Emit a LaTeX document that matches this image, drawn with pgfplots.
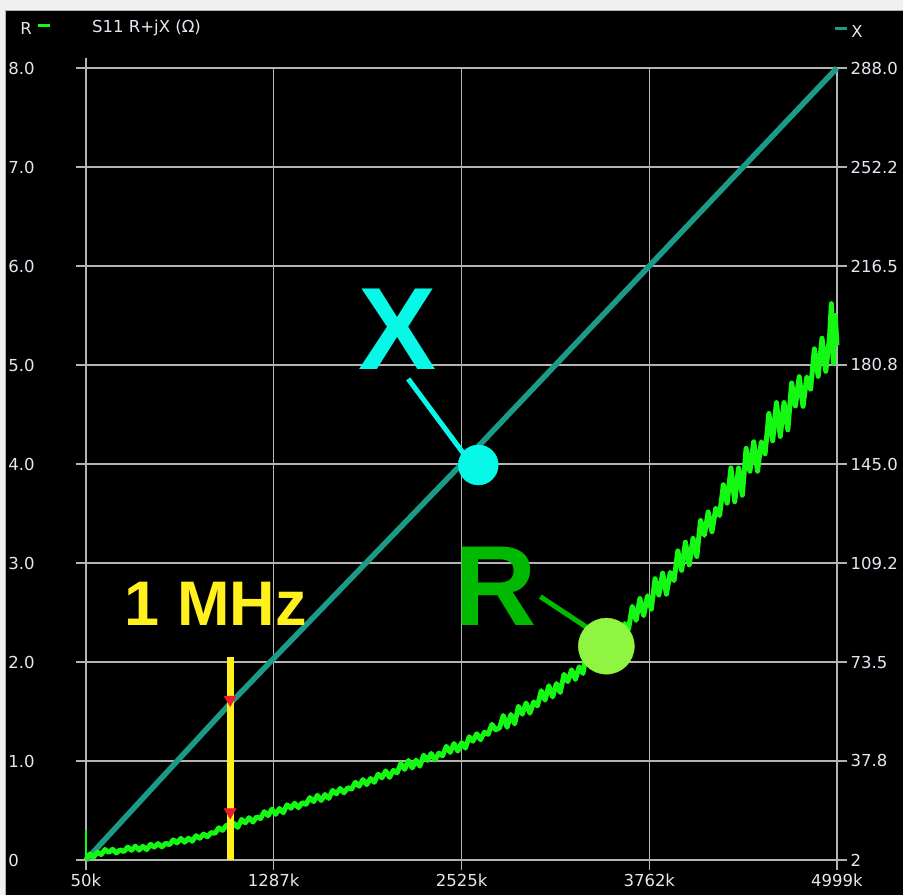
\documentclass[border=0pt]{standalone}
\usepackage{fontspec}
\setmainfont{DejaVu Sans}
\newfontfamily\annfont{Liberation Sans}
\usepackage{pgfplots}
\pgfplotsset{compat=1.18}

\definecolor{gridgray}{HTML}{B4B4B4}
\definecolor{tickwhite}{HTML}{E6E6F0}
\definecolor{bggray}{HTML}{F0F0F0}
\definecolor{xteal}{HTML}{1B9A88}
\definecolor{rgreen}{HTML}{14F814}
\definecolor{cyanA}{HTML}{08F8E8}
\definecolor{rtext}{HTML}{00B900}
\definecolor{rcircle}{HTML}{90F540}
\definecolor{myyellow}{HTML}{FFF01E}
\definecolor{tri}{HTML}{E8202A}

\pgfplotsset{
  chartbase/.style={at={(86pt,35pt)}, anchor=south west, scale only axis,
    width=751pt, height=792pt, xmin=50, xmax=4999, clip=false},
  charticks/.style={tick align=outside, major tick length=10pt,
    tick style={gridgray, line width=1.5pt},
    axis line style={gridgray, line width=1.5pt},
    ticklabel style={font=\fontsize{16.5}{18}\selectfont, text=tickwhite}},
}

\begin{document}
\begin{tikzpicture}
% background and window frame
\fill[black] (0pt,0pt) rectangle (903pt,895pt);
\fill[bggray] (0pt,885pt) rectangle (903pt,895pt);
\fill[bggray] (0pt,0pt) rectangle (5pt,895pt);
\draw[gray!60, line width=0.8pt] (5pt,0pt) -- (5pt,885pt) -- (903pt,885pt);

% left axis with grid
\begin{axis}[chartbase, charticks, ymin=0, ymax=8,
    grid=major, major grid style={gridgray, line width=1.5pt},
    xtick pos=bottom, ytick pos=left,
    xtick={50,1287,2525,3762,4999},
    xticklabels={50k,1287k,2525k,3762k,4999k},
    ytick={0,1,2,3,4,5,6,7,8},
    yticklabels={0,1.0,2.0,3.0,4.0,5.0,6.0,7.0,8.0},
    yticklabel style={text width=64pt, align=left}]
  \draw[gridgray, line width=1.5pt] (rel axis cs:0,1) -- ++(0pt,10pt);
  \draw[gridgray, line width=1.5pt] (rel axis cs:1,0) -- ++(10pt,0pt);
\end{axis}

% right axis: X
\begin{axis}[chartbase, charticks, ymin=2, ymax=288,
    axis x line*=bottom, axis y line*=right,
    xtick=\empty, x axis line style={draw=none},
    ytick={2,37.8,73.5,109.2,145,180.8,216.5,252.2,288},
    yticklabels={2,37.8,73.5,109.2,145.0,180.8,216.5,252.2,288.0}]
  \addplot[xteal, line width=5.5pt] coordinates {(50,2) (1000,58.5) (2525,145) (3762,216.5) (4999,288)};
\end{axis}

% R trace and annotations (left units)
\begin{axis}[chartbase, ymin=0, ymax=8, hide axis]
  \addplot[rgreen, line width=2.5pt] coordinates {(50,0) (50,0.30)};
  \addplot[rgreen, line width=5pt, line join=round] coordinates {
    (50,0.0)(75,0.06)(100,0.03)(125,0.078)(150,0.055)(175,0.106)(200,0.077)(225,0.108)(250,0.071)
    (275,0.102)(300,0.085)(325,0.13)(350,0.098)(375,0.14)(400,0.10)(425,0.138)(450,0.105)(475,0.158)
    (500,0.13)(525,0.165)(550,0.133)(575,0.168)(600,0.155)(625,0.203)(650,0.173)(675,0.218)(700,0.18)
    (725,0.22)(750,0.19)(775,0.245)(800,0.22)(825,0.262)(850,0.235)(875,0.276)(900,0.27)(925,0.324)
    (950,0.30)(975,0.351)(1000,0.312)(1025,0.37)(1050,0.33)(1075,0.409)(1100,0.376)(1125,0.427)
    (1150,0.384)(1175,0.435)(1200,0.419)(1225,0.488)(1250,0.448)(1275,0.513)(1300,0.462)(1325,0.52)
    (1350,0.478)(1375,0.557)(1400,0.523)(1425,0.573)(1450,0.529)(1475,0.579)(1500,0.562)(1525,0.63)
    (1550,0.59)(1575,0.653)(1600,0.602)(1625,0.661)(1650,0.622)(1675,0.702)(1700,0.669)(1725,0.722)
    (1750,0.679)(1775,0.73)(1800,0.716)(1825,0.785)(1850,0.746)(1875,0.812)(1900,0.762)(1925,0.823)
    (1950,0.785)(1975,0.867)(2000,0.83)(2025,0.90)(2050,0.835)(2075,0.905)(2100,0.88)(2125,0.975)
    (2150,0.915)(2175,1.005)(2200,0.93)(2225,1.009)(2250,0.948)(2275,1.058)(2300,1.007)(2325,1.076)
    (2350,1.01)(2375,1.079)(2400,1.053)(2425,1.148)(2450,1.087)(2475,1.176)(2500,1.10)(2525,1.185)
    (2550,1.13)(2575,1.245)(2600,1.20)(2625,1.275)(2650,1.215)(2675,1.29)(2700,1.27)(2725,1.37)
    (2750,1.315)(2775,1.335)
    (2800,1.46)(2825,1.341)(2850,1.47)(2875,1.375)(2900,1.552)(2925,1.473)(2950,1.586)(2975,1.483)
    (3000,1.596)(3025,1.557)(3050,1.71)(3075,1.615)(3100,1.76)(3125,1.647)(3150,1.782)(3175,1.692)
    (3200,1.875)(3225,1.802)(3250,1.921)(3275,1.824)(3300,1.951)(3325,1.885)(3350,2.108)(3375,1.959)
    (3400,2.17)(3425,1.993)(3450,2.188)(3475,2.048)(3500,2.315)(3525,2.198)(3550,2.369)(3575,2.216)
    (3600,2.387)(3625,2.331)(3650,2.562)(3675,2.421)(3700,2.64)(3725,2.468)(3750,2.668)(3775,2.533)
    (3800,2.841)(3825,2.677)(3850,2.897)(3875,2.685)(3900,2.905)(3925,2.822)(3950,3.122)(3975,2.926)
    (4000,3.21)(4025,2.981)(4050,3.248)(4075,3.066)(4100,3.429)(4125,3.28)(4150,3.515)(4175,3.317)
    (4200,3.552)(4225,3.479)(4250,3.79)(4275,3.605)(4300,3.96)(4325,3.619)(4350,3.96)(4375,3.685)
    (4400,4.158)(4425,3.927)(4450,4.224)(4475,3.927)(4500,4.224)(4525,4.103)(4550,4.51)(4575,4.235)
    (4600,4.62)(4625,4.279)(4650,4.62)(4675,4.345)(4700,4.818)(4725,4.586)(4750,4.882)(4775,4.583)
    (4800,4.879)(4825,4.757)(4850,5.163)(4875,4.886)(4900,5.27)(4925,4.936)(4950,5.285)(4962,5.62)
    (4975,5.017)(4987,5.5)(4999,5.2)};
  % 1 MHz marker
  \addplot[myyellow, line width=7pt] coordinates {(1000,0) (1000,2.05)};
  \addplot[only marks, mark=triangle*, mark size=7pt, tri,
    mark options={rotate=180, fill=tri, draw=tri}] coordinates {(1000,1.62) (1000,0.485)};
  % callouts
  \draw[cyanA, line width=5pt] (axis cs:2173,4.86) -- (axis cs:2560,4.06);
  \draw[rtext, line width=5pt] (axis cs:3044,2.66) -- (axis cs:3400,2.3);
  \addplot[only marks, mark=*, mark size=20pt, cyanA, mark options={fill=cyanA, draw=cyanA}] coordinates {(2635,3.99)};
  \addplot[only marks, mark=*, mark size=28pt, rcircle, mark options={fill=rcircle, draw=rcircle}] coordinates {(3479,2.16)};
  \node[inner sep=0pt, text=cyanA, font=\annfont\bfseries\fontsize{117}{117}\selectfont] at (axis cs:2101,5.36) {X};
  \node[inner sep=0pt, text=rtext, font=\annfont\bfseries\fontsize{114}{114}\selectfont] at (axis cs:2747,2.76) {R};
  \node[inner sep=0pt, text=myyellow, font=\annfont\bfseries\fontsize{63}{63}\selectfont] at (axis cs:904,2.59) {1 MHz};
\end{axis}

% header
\node[text=tickwhite, font=\fontsize{16.5}{18}\selectfont, anchor=center] at (26pt,867pt) {R};
\draw[rgreen, line width=3pt] (38pt,869pt) -- (50pt,869pt);
\node[text=tickwhite, font=\fontsize{16.5}{18}\selectfont, anchor=west, inner sep=0pt] at (92pt,867pt) {S11 R+jX (Ω)};
\draw[xteal, line width=3pt] (835pt,866pt) -- (847pt,866pt);
\node[text=tickwhite, font=\fontsize{16.5}{18}\selectfont, anchor=center] at (857pt,864pt) {X};

\pgfresetboundingbox
\path (0pt,0pt) rectangle (903pt,895pt);
\end{tikzpicture}
\end{document}
